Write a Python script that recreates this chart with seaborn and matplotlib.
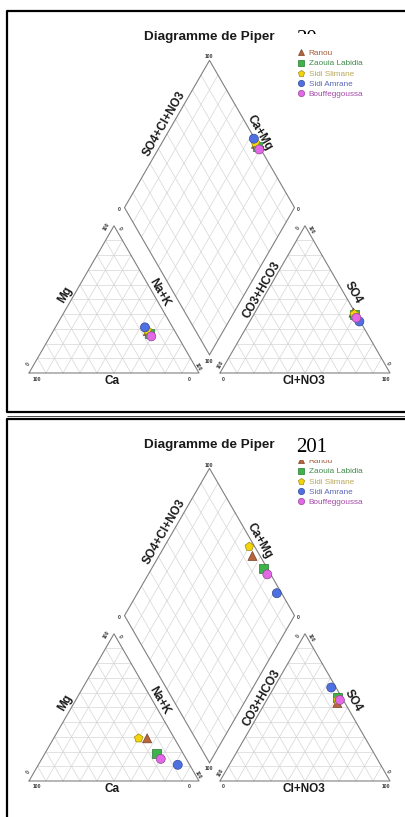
import numpy as np
import pandas as pd
import matplotlib
matplotlib.use("Agg")
import matplotlib.pyplot as plt
from matplotlib.lines import Line2D
from matplotlib.patches import Rectangle
import seaborn as sns

# -----------------------------------
# DATA (percent of meq)
# -----------------------------------

sites = ["Ranou", "Zaouia Labidia", "Sidi Slimane", "Sidi Amrane", "Bouffeggoussa"]
site_markers = ["^", "s", "p", "o", "o"]
site_colors = ["#b8643c", "#3cb44a", "#f4d40c", "#4f70e3", "#e368e6"]
label_colors = ["#a35a3a", "#3f8a4a", "#b9a85a", "#5a68b5", "#a447a8"]

# upper panel
top_ca = [15.8, 15.7, 16.0, 16.3, 15.6]
top_mg = [28.5, 26.8, 29.0, 31.0, 24.9]
top_nak = [55.7, 57.5, 55.0, 52.7, 59.5]
top_co3 = [1.0, 1.0, 1.0, 0.5, 1.0]
top_so4 = [41.0, 39.5, 40.0, 35.0, 37.5]
top_cl = [58.0, 59.5, 59.0, 64.5, 61.5]

# lower panel
bot_ca = [16.0, 15.5, 21.0, 7.0, 15.0]
bot_mg = [29.0, 19.0, 29.0, 11.0, 15.0]
bot_nak = [55.0, 65.5, 50.0, 82.0, 70.0]
bot_co3 = [4.5, 2.5, 3.2, 2.8, 2.0]
bot_so4 = [53.0, 57.0, 55.0, 63.5, 55.0]
bot_cl = [42.5, 40.5, 41.8, 33.7, 43.0]

GAP = 0.1235
SQ = np.sqrt(3) / 2
PX = 170.0  # pixels per unit side


def px2d(px, py):
    # pixel position inside a panel -> data coords
    return (px - 29) / PX, (373 - py) / PX


def piper_points(ca, mg, nak, co3, so4, cl):
    ca, mg, nak = map(np.asarray, (ca, mg, nak))
    co3, so4, cl = map(np.asarray, (co3, so4, cl))
    tc = ca + mg + nak
    ta = co3 + so4 + cl
    cx = (nak + mg / 2) / tc
    cy = mg / tc * SQ
    ax_ = 1 + GAP + (cl + so4 / 2) / ta
    ay = so4 / ta * SQ
    a = nak / tc
    d = (so4 + cl) / ta
    dx = (1 + GAP + a + d) / 2
    dy = (1 + GAP + d - a) * SQ
    rows = []
    for xs, ys in [(cx, cy), (ax_, ay), (dx, dy)]:
        for s, x, y in zip(sites, xs, ys):
            rows.append({"x": x, "y": y, "site": s})
    return pd.DataFrame(rows)


def draw_frame(ax):
    grid = dict(color="#d6d6d6", lw=0.5, zorder=1)
    edge = dict(color="#808080", lw=0.8, zorder=2)
    for x0 in [0, 1 + GAP]:
        for i in range(1, 10):
            f = i / 10
            ax.plot([x0 + f / 2, x0 + 1 - f / 2], [f * SQ, f * SQ], **grid)
            ax.plot([x0 + f, x0 + f + (1 - f) / 2], [0, (1 - f) * SQ], **grid)
            ax.plot([x0 + f, x0 + f / 2], [0, f * SQ], **grid)
        ax.plot([x0, x0 + 1, x0 + 0.5, x0], [0, 0, SQ, 0], **edge)
    B = np.array([1 + GAP / 2, GAP * SQ])
    u = np.array([-0.5, SQ])
    v = np.array([0.5, SQ])
    for i in range(1, 10):
        f = i / 10
        p, q = B + f * u, B + f * u + v
        ax.plot([p[0], q[0]], [p[1], q[1]], **grid)
        p, q = B + f * v, B + f * v + u
        ax.plot([p[0], q[0]], [p[1], q[1]], **grid)
    L, R, T = B + u, B + v, B + u + v
    ax.plot([B[0], L[0], T[0], R[0], B[0]], [B[1], L[1], T[1], R[1], B[1]], **edge)

    # small corner numbers
    ticks = [
        ("100", 107, 227, 60), ("0", 119.5, 228, -60), ("0", 28, 364, 60),
        ("100", 36.5, 379, 0), ("0", 189.5, 379, 0), ("100", 198.5, 367, -60),
        ("0", 298.5, 228, 60), ("100", 311, 230, -60), ("100", 221, 365, 60),
        ("0", 223.5, 379, 0), ("100", 385.5, 379, 0), ("0", 387.5, 363, -60),
        ("100", 209, 57, 0), ("0", 119.5, 209.5, 0), ("0", 298.5, 209.5, 0),
        ("100", 209, 361, 0),
    ]
    for t, px, py, rot in ticks:
        x, y = px2d(px, py)
        ax.text(x, y, t, fontsize=3.6, fontweight="bold", color="#333333",
                rotation=rot, ha="center", va="center")

    labels = [
        ("Mg", 65.5, 295, 60), ("Na+K", 159, 293, -60), ("Ca", 112, 381, 0),
        ("CO3+HCO3", 262, 290, 60), ("SO4", 353, 293, -60), ("Cl+NO3", 303.5, 381, 0),
        ("SO4+Cl+NO3", 164, 124, 60), ("Ca+Mg", 259.5, 133, -60),
    ]
    for t, px, py, rot in labels:
        x, y = px2d(px, py)
        ax.text(x, y, t, fontsize=8.5, fontweight="bold", color="#1a1a1a",
                rotation=rot, ha="center", va="center", rotation_mode="anchor")

    x, y = px2d(209.5, 37)
    ax.text(x, y, "Diagramme de Piper", fontsize=9.7, fontweight="bold",
            color="#1a1a1a", ha="center", va="center")


def draw_panel(ax, ca, mg, nak, co3, so4, cl, stamp, top):
    ax.set_xlim(-29 / PX, (406 - 29) / PX)
    h = 408 if top else 409
    ax.set_ylim((373 - h) / PX, 373 / PX)
    ax.set_axis_off()

    draw_frame(ax)

    df = piper_points(ca, mg, nak, co3, so4, cl)
    sns.scatterplot(data=df, x="x", y="y", hue="site", style="site",
                    hue_order=sites, style_order=sites,
                    palette=dict(zip(sites, site_colors)),
                    markers=dict(zip(sites, site_markers)),
                    s=42, linewidth=0.5, ax=ax, zorder=3)
    coll = ax.collections[-1]
    fc = coll.get_facecolors()
    ec = fc.copy()
    ec[:, :3] = ec[:, :3] * 0.65
    coll.set_edgecolors(ec)

    x0, y0 = px2d(296.5, 49.5)
    sns.move_legend(ax, "upper left", bbox_to_anchor=(x0, y0),
                    bbox_transform=ax.transData, frameon=False, title=None,
                    fontsize=5.9, labelspacing=0.3, handlelength=1.0,
                    handletextpad=0.5, borderpad=0, borderaxespad=0,
                    markerscale=0.7)
    leg = ax.get_legend()
    for txt, c in zip(leg.get_texts(), label_colors):
        txt.set_color(c)
    for hdl, c in zip(leg.legend_handles, site_colors):
        rgb = np.array(matplotlib.colors.to_rgb(c)) * 0.65
        try:
            hdl.set_markeredgecolor(rgb)
        except AttributeError:
            hdl.set_edgecolor(rgb)

    # year stamp pasted over the figure
    sx, sy = px2d(296.5, 44)
    if top:
        ax.text(sx, sy, stamp, fontsize=15, family="Liberation Serif",
                color="black", ha="left", va="baseline", zorder=8)
        rx0, ry0 = px2d(288, 48)
        rx1, ry1 = px2d(372, 33.5)
    else:
        ax.text(sx, sy, stamp, fontsize=15, family="Liberation Serif",
                color="black", ha="left", va="baseline", zorder=11)
        rx0, ry0 = px2d(288, 51.5)
        rx1, ry1 = px2d(372, 24)
    ax.add_patch(Rectangle((rx0, ry0), rx1 - rx0, ry1 - ry0,
                           facecolor="white", edgecolor="none", zorder=10))


def border(fig, pts, lw=1.6):
    xs = [p[0] / 406 for p in pts]
    ys = [1 - p[1] / 817 for p in pts]
    fig.add_artist(Line2D(xs, ys, color="black", lw=lw,
                          transform=fig.transFigure, solid_capstyle="butt"))


def main():
    sns.set_style("white")
    plt.rcParams["font.family"] = ["Liberation Sans", "DejaVu Sans"]

    fig = plt.figure(figsize=(4.06, 8.17), dpi=100)
    fig.patch.set_facecolor("white")

    ax1 = fig.add_axes([0, 1 - 408 / 817, 1, 408 / 817])
    ax2 = fig.add_axes([0, 0, 1, 409 / 817])

    draw_panel(ax1, top_ca, top_mg, top_nak, top_co3, top_so4, top_cl, "20", True)
    draw_panel(ax2, bot_ca, bot_mg, bot_nak, bot_co3, bot_so4, bot_cl, "201", False)

    border(fig, [(406, 11), (7, 11), (7, 412), (406, 412)])
    border(fig, [(406, 419), (7, 419), (7, 817)])
    border(fig, [(7, 416.3), (406, 416.3)], lw=0.5)

    fig.savefig("out.png", dpi=100)


if __name__ == "__main__":
    main()
